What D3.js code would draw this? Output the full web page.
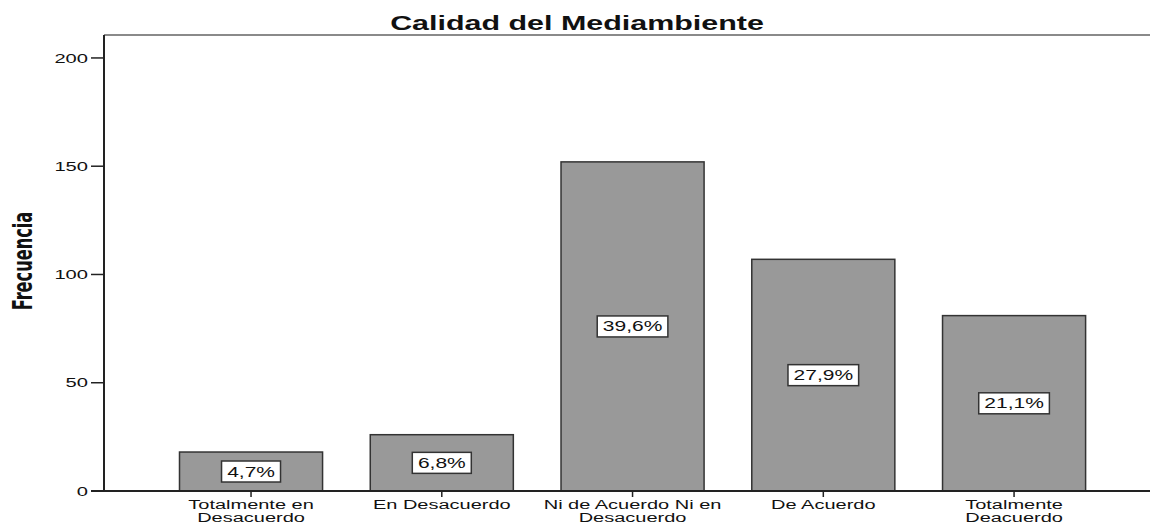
<!DOCTYPE html>
<html lang="es">
<head>
    <meta charset="UTF-8">
    <title>Calidad del Mediambiente</title>
    <script src="https://d3js.org/d3.v7.min.js"></script>
    <style>
        body { margin: 0; background: #fff; }
        text { font-family: Arial, 'Liberation Sans', sans-serif; fill: #111; }
    </style>
</head>
<body>
<script>
    const width = 1150;
    const height = 525;
    const stretch = 1.45; // the reference draws its text wide

    const categories = [
        ['Totalmente en', 'Desacuerdo'],
        ['En Desacuerdo'],
        ['Ni de Acuerdo Ni en', 'Desacuerdo'],
        ['De Acuerdo'],
        ['Totalmente', 'Deacuerdo']
    ];
    const frequencies = [18, 26, 152, 107, 81];
    const percentLabels = ['4,7%', '6,8%', '39,6%', '27,9%', '21,1%'];
    const yTicks = [0, 50, 100, 150, 200];

    const plotLeft = 104, plotTop = 35, plotBottom = 491;

    const svg = d3.select('body').append('svg').attr('width', width).attr('height', height);

    const x = d3.scaleBand()
                .domain(d3.range(categories.length))
                .range([179.5, 1085.6])
                .paddingInner(0.25)
                .paddingOuter(0);

    const y = d3.scaleLinear().domain([0, 210.6]).range([plotBottom, plotTop]);

    // frame: grey top line, dark axes
    svg.append('line')
       .attr('x1', plotLeft).attr('x2', width)
       .attr('y1', plotTop).attr('y2', plotTop)
       .style('stroke', '#8a8a8a').style('stroke-width', 2);

    svg.append('line')
       .attr('x1', plotLeft).attr('x2', plotLeft)
       .attr('y1', plotTop).attr('y2', plotBottom)
       .style('stroke', '#222').style('stroke-width', 2);

    // bars
    svg.selectAll('rect.bar')
       .data(frequencies)
       .enter()
       .append('rect')
       .attr('class', 'bar')
       .attr('x', (d, i) => x(i))
       .attr('y', d => y(d))
       .attr('width', x.bandwidth())
       .attr('height', d => y(0) - y(d))
       .style('fill', '#999999')
       .style('stroke', '#333')
       .style('stroke-width', 1.5);

    svg.append('line')
       .attr('x1', 91).attr('x2', width)
       .attr('y1', plotBottom).attr('y2', plotBottom)
       .style('stroke', '#222').style('stroke-width', 2);

    // y ticks
    const yt = svg.selectAll('g.ytick').data(yTicks).enter().append('g').attr('class', 'ytick');
    yt.append('line')
      .attr('x1', 91).attr('x2', plotLeft)
      .attr('y1', d => y(d)).attr('y2', d => y(d))
      .style('stroke', '#222').style('stroke-width', 1.5);
    yt.append('text')
      .attr('transform', d => `translate(88,${y(d)}) scale(1.55,1)`)
      .attr('dy', '0.35em')
      .style('text-anchor', 'end')
      .style('font-size', '13px')
      .text(d => d);

    // x ticks and labels
    const xt = svg.selectAll('g.xtick').data(categories).enter().append('g').attr('class', 'xtick');
    xt.append('line')
      .attr('x1', (d, i) => x(i) + x.bandwidth() / 2)
      .attr('x2', (d, i) => x(i) + x.bandwidth() / 2)
      .attr('y1', plotBottom).attr('y2', plotBottom + 6)
      .style('stroke', '#222').style('stroke-width', 1.5);
    xt.each(function (lines, i) {
        const cx = x(i) + x.bandwidth() / 2;
        d3.select(this).selectAll('text')
          .data(lines)
          .enter()
          .append('text')
          .attr('transform', (l, j) => `translate(${cx},${508.5 + j * 13.5}) scale(1.6,1)`)
          .style('text-anchor', 'middle')
          .style('font-size', '12.5px')
          .text(l => l);
    });

    // percentage boxes in the middle of each bar
    const lab = svg.selectAll('g.lab').data(frequencies).enter().append('g')
                   .attr('class', 'lab')
                   .attr('transform', (d, i) => `translate(${x(i) + x.bandwidth() / 2},${(y(d) + y(0)) / 2})`);
    lab.append('text')
       .attr('transform', `scale(1.5,1)`)
       .attr('dy', '0.36em')
       .style('text-anchor', 'middle')
       .style('font-size', '14px')
       .text((d, i) => percentLabels[i])
       .each(function () {
           const bb = this.getBBox();
           const w = bb.width * 1.5 + 11;
           d3.select(this.parentNode).insert('rect', 'text')
             .attr('x', -w / 2).attr('y', -10.5)
             .attr('width', w).attr('height', 21)
             .style('fill', '#fff')
             .style('stroke', '#333')
             .style('stroke-width', 1.5);
       });

    // title
    svg.append('text')
       .attr('transform', `translate(577,30) scale(${stretch},1)`)
       .style('text-anchor', 'middle')
       .style('font-size', '21px')
       .style('font-weight', 'bold')
       .text('Calidad del Mediambiente');

    // y axis title
    svg.append('text')
       .attr('transform', `translate(32,261) scale(${stretch},1) rotate(-90)`)
       .style('text-anchor', 'middle')
       .style('font-family', "'Liberation Sans Narrow', 'DejaVu Sans Condensed', sans-serif")
       .style('font-size', '18px')
       .style('font-weight', 'bold')
       .text('Frecuencia');
</script>
</body>
</html>
